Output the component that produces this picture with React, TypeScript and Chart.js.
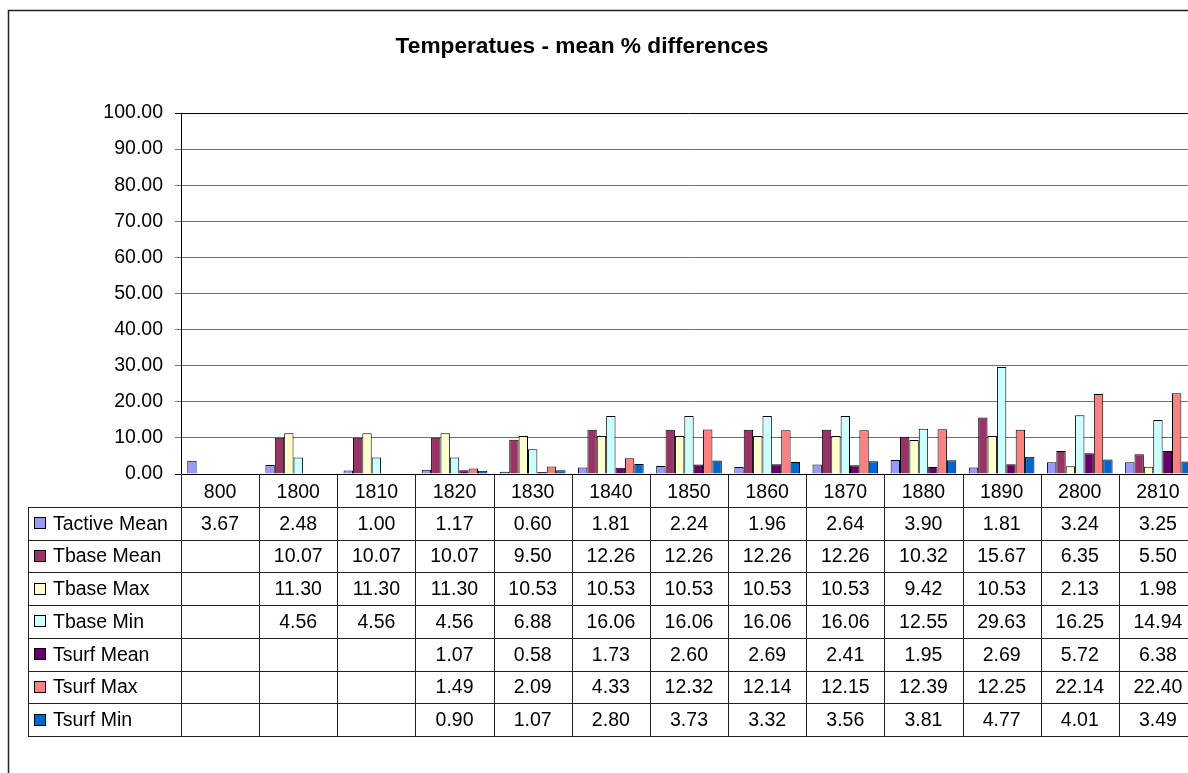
import React, { useEffect, useRef } from "react";
import { Chart, registerables } from "chart.js";

Chart.register(...registerables);

const chartTitle = "Temperatues - mean % differences";
const categories = ["800", "1800", "1810", "1820", "1830", "1840", "1850", "1860", "1870", "1880", "1890", "2800", "2810"];
const yTicks = [0, 10, 20, 30, 40, 50, 60, 70, 80, 90, 100];

const tactiveMean = [3.67, 2.48, 1.0, 1.17, 0.6, 1.81, 2.24, 1.96, 2.64, 3.9, 1.81, 3.24, 3.25];
const tbaseMean = [null, 10.07, 10.07, 10.07, 9.5, 12.26, 12.26, 12.26, 12.26, 10.32, 15.67, 6.35, 5.5];
const tbaseMax = [null, 11.3, 11.3, 11.3, 10.53, 10.53, 10.53, 10.53, 10.53, 9.42, 10.53, 2.13, 1.98];
const tbaseMin = [null, 4.56, 4.56, 4.56, 6.88, 16.06, 16.06, 16.06, 16.06, 12.55, 29.63, 16.25, 14.94];
const tsurfMean = [null, null, null, 1.07, 0.58, 1.73, 2.6, 2.69, 2.41, 1.95, 2.69, 5.72, 6.38];
const tsurfMax = [null, null, null, 1.49, 2.09, 4.33, 12.32, 12.14, 12.15, 12.39, 12.25, 22.14, 22.4];
const tsurfMin = [null, null, null, 0.9, 1.07, 2.8, 3.73, 3.32, 3.56, 3.81, 4.77, 4.01, 3.49];

const seriesNames = ["Tactive Mean", "Tbase Mean", "Tbase Max", "Tbase Min", "Tsurf Mean", "Tsurf Max", "Tsurf Min"];
const seriesValues = [tactiveMean, tbaseMean, tbaseMax, tbaseMin, tsurfMean, tsurfMax, tsurfMin];
const seriesColors = ["#9999FF", "#993366", "#FFFFCC", "#CCFFFF", "#660066", "#FF8080", "#0066CC"];

const FONT = "'Liberation Sans', Arial, sans-serif";
const FS = 19.5;

const tablePlugin = {
  id: "dataTable",
  afterDraw(chart: any) {
    const ctx = chart.ctx;
    const xs = chart.scales.x;
    const area = chart.chartArea;
    const n = categories.length;
    const catW = xs.getPixelForValue(1) - xs.getPixelForValue(0);
    const left = xs.getPixelForValue(0) - catW / 2;
    const top = area.bottom;
    const rows = seriesNames.length + 1;
    const rowH = 32.75;
    const bottom = top + rows * rowH;
    const legendLeft = 28;
    const farRight = chart.width;

    ctx.save();
    // title
    ctx.fillStyle = "#000";
    ctx.font = `bold 22.7px ${FONT}`;
    ctx.textAlign = "center";
    ctx.textBaseline = "alphabetic";
    ctx.fillText(chartTitle, 582, 53);

    // outer border
    ctx.strokeStyle = "#222";
    ctx.lineWidth = 1.5;
    ctx.beginPath();
    ctx.moveTo(8.5, chart.height + 5);
    ctx.lineTo(8.5, 10.5);
    ctx.lineTo(farRight + 5, 10.5);
    ctx.stroke();

    // table grid
    ctx.strokeStyle = "#222";
    ctx.lineWidth = 1;
    ctx.beginPath();
    for (let k = 0; k <= n; k++) {
      const x = Math.round(left + k * catW) + 0.5;
      ctx.moveTo(x, top);
      ctx.lineTo(x, bottom);
    }
    for (let r = 1; r <= rows; r++) {
      const y = Math.round(top + r * rowH) + 0.5;
      ctx.moveTo(legendLeft, y);
      ctx.lineTo(farRight, y);
    }
    ctx.moveTo(legendLeft + 0.5, Math.round(top + rowH) + 0.5);
    ctx.lineTo(legendLeft + 0.5, Math.round(bottom) + 0.5);
    ctx.stroke();

    // rows
    ctx.font = `${FS}px ${FONT}`;
    ctx.textBaseline = "middle";
    for (let s = 0; s < seriesNames.length; s++) {
      const cy = top + (s + 1.5) * rowH;
      // legend key
      ctx.fillStyle = seriesColors[s];
      ctx.fillRect(35, Math.round(cy - 5), 10, 10);
      ctx.strokeStyle = "#000";
      ctx.strokeRect(34.5, Math.round(cy - 5) - 0.5, 11, 11);
      ctx.fillStyle = "#000";
      ctx.textAlign = "left";
      ctx.fillText(seriesNames[s], 53, cy + 1);
      ctx.textAlign = "center";
      const vals = seriesValues[s];
      for (let i = 0; i < n; i++) {
        const v = vals[i];
        if (v === null || v === undefined) continue;
        ctx.fillText(v.toFixed(2), xs.getPixelForValue(i), cy + 1);
      }
    }
    ctx.restore();
  },
};

export default function App() {
  const ref = useRef<HTMLCanvasElement | null>(null);

  useEffect(() => {
    if (!ref.current) return;
    const chart = new Chart(ref.current, {
      type: "bar",
      data: {
        labels: categories,
        datasets: seriesNames.map((name, s) => ({
          label: name,
          data: seriesValues[s] as any,
          backgroundColor: seriesColors[s],
          borderColor: "#000",
          borderWidth: 1,
          categoryPercentage: 0.84,
          barPercentage: 1.0,
        })),
      },
      options: {
        animation: false,
        responsive: false,
        devicePixelRatio: 1,
        layout: { padding: { left: 8, top: 113, right: 3, bottom: 0 } },
        plugins: {
          legend: { display: false },
          title: { display: false },
          tooltip: { enabled: false },
        },
        scales: {
          x: {
            grid: { display: false },
            border: { display: false },
            ticks: {
              color: "#000",
              font: { family: FONT, size: FS },
              padding: -1,
              maxRotation: 0,
              autoSkip: false,
            },
            afterFit: (scale: any) => {
              scale.height = 299;
            },
          },
          y: {
            min: 0,
            max: 100,
            afterBuildTicks: (scale: any) => {
              scale.ticks = yTicks.map((v) => ({ value: v }));
            },
            grid: {
              color: (c: any) => (c.tick && (c.tick.value === 0 || c.tick.value === 100) ? "#000" : "#707070"),
              lineWidth: 1,
              tickLength: 6,
              drawTicks: true,
            },
            border: { display: true, color: "#000", width: 1 },
            ticks: {
              color: "#000",
              font: { family: FONT, size: FS },
              padding: 12,
              callback: (v: any) => Number(v).toFixed(2),
            },
            afterFit: (scale: any) => {
              scale.width = 173;
            },
          },
        },
      },
      plugins: [tablePlugin],
    });
    return () => chart.destroy();
  }, []);

  return (
    <div
      style={{
        position: "fixed",
        left: 0,
        top: 0,
        width: 1188,
        height: 773,
        overflow: "hidden",
        background: "#fff",
      }}
    >
      <canvas ref={ref} width={1200} height={773} style={{ display: "block", width: 1200, height: 773 }} />
    </div>
  );
}
